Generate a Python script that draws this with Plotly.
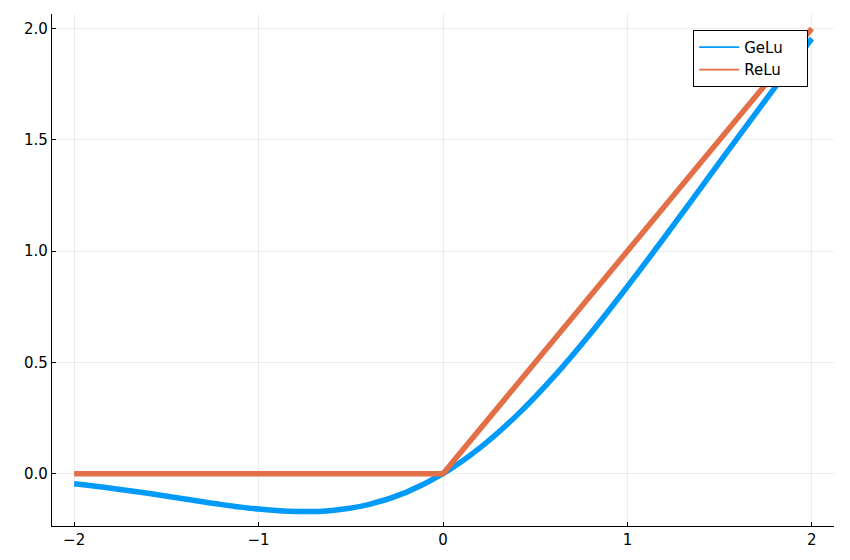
import plotly.graph_objects as go

x_gelu = [-2.0, -1.8, -1.6, -1.4, -1.2, -1.0, -0.8, -0.6, -0.4, -0.2, 0.0,
          0.2, 0.4, 0.6, 0.8, 1.0, 1.2, 1.4, 1.6, 1.8, 2.0]
y_gelu = [-0.045, -0.065, -0.088, -0.114, -0.139, -0.159, -0.170, -0.165, -0.138, -0.084, 0.0,
          0.116, 0.262, 0.435, 0.630, 0.841, 1.061, 1.286, 1.512, 1.735, 1.955]
x_relu = [-2.0, 0.0, 2.0]
y_relu = [0.0, 0.0, 2.0]

x_ticks = [-2, -1, 0, 1, 2]
x_ticklabels = ["\u22122", "\u22121", "0", "1", "2"]
y_ticks = [0.0, 0.5, 1.0, 1.5, 2.0]
y_ticklabels = ["0.0", "0.5", "1.0", "1.5", "2.0"]

BLUE = "#009AFA"
ORANGE = "#E26F46"

fig = go.Figure()
fig.add_trace(go.Scatter(x=x_gelu, y=y_gelu, mode="lines", name="GeLu", showlegend=False,
                         line=dict(color=BLUE, width=5.5, shape="spline")))
fig.add_trace(go.Scatter(x=x_relu, y=y_relu, mode="lines", name="ReLu", showlegend=False,
                         line=dict(color=ORANGE, width=5.5)))
# legend entries with thin lines, as in the reference
fig.add_trace(go.Scatter(x=[None], y=[None], mode="lines", name="GeLu\u00a0\u00a0\u00a0\u00a0",
                         line=dict(color=BLUE, width=1.6)))
fig.add_trace(go.Scatter(x=[None], y=[None], mode="lines", name="ReLu\u00a0\u00a0\u00a0\u00a0",
                         line=dict(color=ORANGE, width=1.6)))

axis_common = dict(showgrid=True, gridcolor="rgba(0,0,0,0.07)", gridwidth=1,
                   zeroline=False, showline=True, linecolor="black", linewidth=1.2,
                   ticks="inside", ticklen=4, tickcolor="black",
                   tickfont=dict(family="DejaVu Sans", size=15, color="black"))

fig.update_layout(
    width=842, height=552,
    margin=dict(l=44, r=16, t=6, b=34),
    paper_bgcolor="white", plot_bgcolor="white",
    xaxis=dict(range=[-2.12, 2.12], tickvals=x_ticks, ticktext=x_ticklabels, **axis_common),
    yaxis=dict(range=[-0.235, 2.065], tickvals=y_ticks, ticktext=y_ticklabels, **axis_common),
    legend=dict(x=0.967, y=0.969, xanchor="right", yanchor="top",
                bordercolor="black", borderwidth=1, bgcolor="white",
                font=dict(family="DejaVu Sans", size=15, color="black"),
                tracegroupgap=0, itemwidth=40),
    showlegend=True,
)

fig.write_html("out.html")
